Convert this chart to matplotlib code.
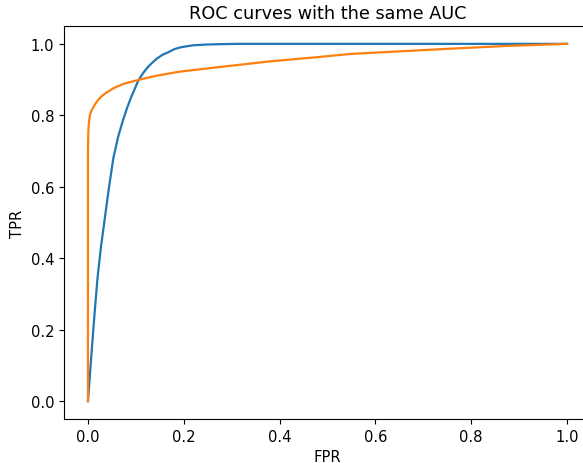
import matplotlib
matplotlib.use("Agg")
import matplotlib.pyplot as plt

# values
fpr_a = [0.0, 0.005, 0.01, 0.015, 0.02, 0.027, 0.034, 0.043, 0.053, 0.063,
         0.074, 0.082, 0.09, 0.098, 0.105, 0.115, 0.125, 0.134, 0.143, 0.155,
         0.17, 0.18, 0.192, 0.205, 0.22, 0.245, 0.27, 0.31, 0.35, 1.0]
tpr_a = [0.0, 0.09, 0.18, 0.265, 0.345, 0.43, 0.50, 0.59, 0.68, 0.74,
         0.79, 0.822, 0.85, 0.875, 0.897, 0.918, 0.935, 0.947, 0.958, 0.969,
         0.978, 0.985, 0.99, 0.993, 0.996, 0.998, 0.999, 1.0, 1.0, 1.0]

fpr_b = [0.0, 0.0, 0.0005, 0.001, 0.002, 0.004, 0.007, 0.01, 0.014, 0.018,
         0.024, 0.03, 0.039, 0.055, 0.074, 0.105, 0.14, 0.19, 0.28, 0.38,
         0.48, 0.55, 0.65, 0.75, 0.87, 1.0]
tpr_b = [0.0, 0.70, 0.735, 0.76, 0.78, 0.80, 0.812, 0.82, 0.829, 0.837,
         0.847, 0.855, 0.864, 0.877, 0.888, 0.899, 0.91, 0.922, 0.936, 0.951,
         0.963, 0.972, 0.979, 0.986, 0.994, 1.0]

plt.rcParams["font.size"] = 10.6

W, H = 583, 464
fig = plt.figure(figsize=(W / 100, H / 100), dpi=100)
ax = fig.add_axes([64 / W, 44 / H, 527 / W, 393 / H])

ax.plot(fpr_a, tpr_a, color="#1f77b4", lw=1.6)
ax.plot(fpr_b, tpr_b, color="#ff7f0e", lw=1.6)

ax.set_xlim(-0.05, 1.05)
ax.set_ylim(-0.05, 1.05)
ax.set_xlabel("FPR")
ax.set_ylabel("TPR")
ax.set_title("ROC curves with the same AUC")

fig.savefig("out.png", dpi=100)
